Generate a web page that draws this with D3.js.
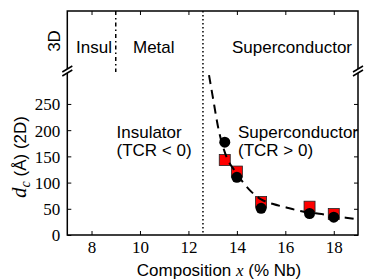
<!DOCTYPE html>
<html>
<head>
<meta charset="utf-8">
<script src="https://cdn.jsdelivr.net/npm/d3@7"></script>
<style>
  body { margin: 0; background: #fff; }
</style>
</head>
<body>
<div id="chart"></div>
<script>
// compositions (% Nb) and critical thickness d_c (Å)
const compositions = [13.5, 14, 15, 17, 18];
const dcCircles = [177, 110, 51, 41, 34];
const dcSquares = [143, 121, 63, 54, 40];
// dashed guide curve
const curveX = [12.85, 13.0, 13.25, 13.5, 14.0, 14.5, 15.0, 15.5, 16.0, 16.5, 17.0, 17.5, 18.0, 18.5, 19.0];
const curveY = [305, 265, 200, 158, 117, 87, 68, 59, 53, 47, 43, 40, 36, 33, 30];
const xTicks = [8, 10, 12, 14, 16, 18];
const yTicks = [0, 50, 100, 150, 200, 250];
const mitBoundary = 9.0;   // insulator / metal (3D)
const scBoundary = 12.6;   // insulator / superconductor

const SANS = '"Liberation Sans", Arial, sans-serif';
const SERIF = '"Liberation Serif", "Times New Roman", serif';

const W = 374, H = 280;
const left = 67.3, right = 358;
const topY = 11, topBottom = 69, botTop = 73, botY = 235;

const svg = d3.select('#chart').append('svg')
  .attr('width', W).attr('height', H);

const x = d3.scaleLinear().domain([7, 19]).range([left, right]);
const y = d3.scaleLinear().domain([0, 310]).range([botY, botTop - 0.5]);

// clip for bottom panel
svg.append('clipPath').attr('id', 'clipBot')
  .append('rect').attr('x', left).attr('y', botTop).attr('width', right - left).attr('height', botY - botTop);

// vertical boundary lines
svg.append('line')
  .attr('x1', x(scBoundary)).attr('x2', x(scBoundary))
  .attr('y1', topY).attr('y2', botY)
  .attr('stroke', '#000').attr('stroke-width', 1.5).attr('stroke-dasharray', '1.5,2.5');
svg.append('line')
  .attr('x1', x(mitBoundary)).attr('x2', x(mitBoundary))
  .attr('y1', topY).attr('y2', topBottom + 3)
  .attr('stroke', '#000').attr('stroke-width', 1.5).attr('stroke-dasharray', '4,3,1.5,3');

// markers
const g = svg.append('g').attr('clip-path', 'url(#clipBot)');
const sq = 11;
g.selectAll('rect.sq').data(compositions).join('rect')
  .attr('class', 'sq')
  .attr('x', d => x(d) - sq / 2)
  .attr('y', (d, i) => y(dcSquares[i]) - sq / 2)
  .attr('width', sq).attr('height', sq)
  .attr('fill', '#ff0000').attr('stroke', '#222').attr('stroke-width', 0.8);
g.selectAll('circle').data(compositions).join('circle')
  .attr('cx', d => x(d))
  .attr('cy', (d, i) => y(dcCircles[i]))
  .attr('r', 5.5).attr('fill', '#000');

// dashed curve
const curvePts = curveX.map((d, i) => [d, curveY[i]]);
svg.append('path').datum(curvePts)
  .attr('clip-path', 'url(#clipBot)')
  .attr('d', d3.line().x(d => x(d[0])).y(d => y(d[1])).curve(d3.curveMonotoneX))
  .attr('fill', 'none').attr('stroke', '#000').attr('stroke-width', 2)
  .attr('stroke-dasharray', '9,6');

// axes
const tickStyle = sel => {
  sel.select('.domain').remove();
  sel.selectAll('.tick line').attr('stroke', '#000');
};
svg.append('g').attr('transform', `translate(0,${botY})`)
  .call(d3.axisBottom(x).tickValues(xTicks).tickSize(-4).tickPadding(5))
  .attr('font-family', SERIF).attr('font-size', 17)
  .call(tickStyle)
  .call(s => s.selectAll('text').style('font-family', SERIF).attr('fill', '#000').attr('dy', '0.75em'));
svg.append('g').attr('transform', `translate(0,${topY})`)
  .call(d3.axisTop(x).tickValues(xTicks).tickSize(-4).tickFormat(''))
  .call(tickStyle);
svg.append('g').attr('transform', `translate(${left},0)`)
  .call(d3.axisLeft(y).tickValues(yTicks).tickSize(-4).tickPadding(7))
  .attr('font-family', SERIF).attr('font-size', 17)
  .call(tickStyle)
  .call(s => s.selectAll('text').style('font-family', SERIF).attr('fill', '#000').attr('dy', '0.35em'));
svg.append('g').attr('transform', `translate(${right},0)`)
  .call(d3.axisRight(y).tickValues(yTicks).tickSize(-4).tickFormat(''))
  .call(tickStyle);

// frame
const frame = svg.append('g').attr('stroke', '#000').attr('stroke-width', 1.5).attr('fill', 'none');
frame.append('path').attr('d', `M${left},${topBottom}V${topY}H${right}V${topBottom}`);
frame.append('path').attr('d', `M${left},${botTop}V${botY}H${right}V${botTop}`);
// break marks
[left, right].forEach(px => {
  [topBottom, botTop].forEach(py => {
    frame.append('line')
      .attr('x1', px - 5).attr('y1', py + 3)
      .attr('x2', px + 5).attr('y2', py - 3);
  });
});

// top panel labels
const txt = (t, px, py) => svg.append('text')
  .style('font-family', SANS).style('font-size', '17px')
  .attr('x', px).attr('y', py).attr('fill', '#000').text(t);
svg.append('text').style('font-family', SANS).style('font-size', '17px')
  .attr('transform', 'translate(59.5,41) rotate(-90)')
  .attr('text-anchor', 'middle').text('3D');
txt('Insul', 76, 53);
txt('Metal', 133, 53);
txt('Superconductor', 232, 53);

// bottom panel labels
txt('Insulator', 116.5, 138);
txt('(TCR < 0)', 116.5, 156);
txt('Superconductor', 238, 138);
txt('(TCR > 0)', 238, 156);

// axis titles
const xl = svg.append('text').style('font-family', SANS).style('font-size', '17px')
  .attr('x', 219).attr('y', 276).attr('text-anchor', 'middle');
xl.append('tspan').text('Composition ');
xl.append('tspan').style('font-family', SERIF).style('font-style', 'italic').text('x');
xl.append('tspan').text(' (% Nb)');

const yl = svg.append('text').style('font-family', SANS).style('font-size', '17px')
  .attr('transform', 'translate(26,157) rotate(-90)').attr('text-anchor', 'middle');
yl.append('tspan').style('font-family', SERIF).style('font-style', 'italic').style('font-size', '21px').text('d');
yl.append('tspan').style('font-family', SERIF).style('font-style', 'italic').style('font-size', '14px').attr('dy', 4).text('c');
yl.append('tspan').attr('dy', -4).text(' (Å) (2D)');
</script>
</body>
</html>
